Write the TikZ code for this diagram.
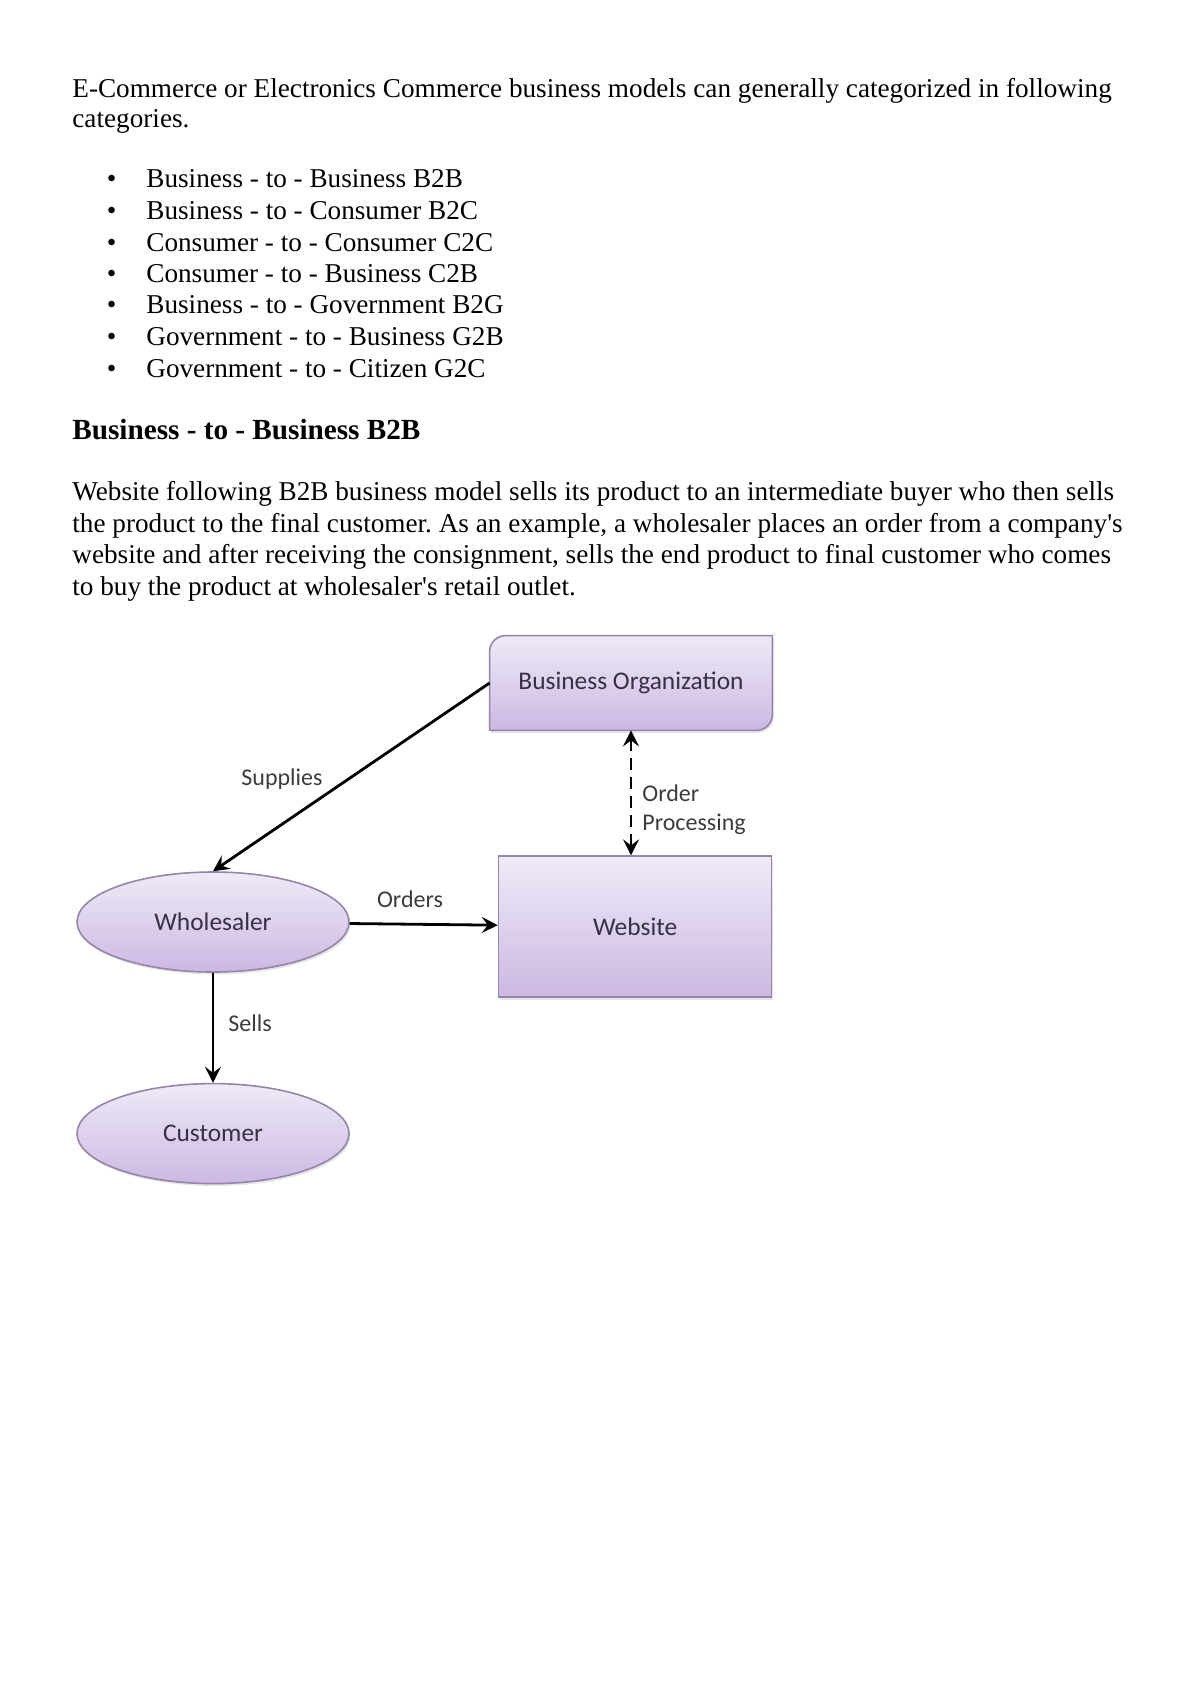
\documentclass[tikz,border=0pt]{standalone}
\usepackage{fontspec}
\setmainfont{Liberation Serif}
\newfontfamily\diag{Carlito}
\usepackage{tikz}
\usetikzlibrary{positioning,arrows.meta,shapes.geometric,shadows}

\definecolor{boxtop}{HTML}{EFEAF7}
\definecolor{boxbot}{HTML}{CCB8E2}
\definecolor{boxedge}{HTML}{9585A8}
\definecolor{nodetext}{HTML}{383044}
\definecolor{labeltext}{HTML}{3C3C3C}

\begin{document}
\frenchspacing
\begin{tikzpicture}[x=0.5pt, y=-0.5pt, >={Stealth[length=8pt,width=8pt,inset=3pt]},
      txt/.style={anchor=base west, inner sep=0pt, font=\fontsize{13.6}{15.75}\selectfont},
      bx/.style={rectangle, draw=boxedge, line width=0.8pt, top color=boxtop, bottom color=boxbot,
        text=nodetext, font=\diag\fontsize{12.7}{15}\selectfont,
        drop shadow={opacity=0.2, shadow xshift=0.8pt, shadow yshift=-1.2pt}},
      el/.style={bx, ellipse, minimum width=136pt, minimum height=50pt, inner sep=0pt},
      lbl/.style={text=labeltext, font=\diag\fontsize{12}{14.5}\selectfont, inner sep=1pt},
      arr/.style={->, line width=1.4pt}]
  \useasboundingbox (0,0) rectangle (1200,1696);

  % intro text
  \node[txt] (intro1) at (72,98) {E-Commerce or Electronics Commerce business models can generally categorized in following};
  \node[txt] (intro2) at (72,128) {categories.};

  \node[txt] (it1) at (146,188) {\llap{\textbullet\hspace{15pt}}Business - to - Business B2B};
  \node[txt] (it2) at (146,219.5) {\llap{\textbullet\hspace{15pt}}Business - to - Consumer B2C};
  \node[txt] (it3) at (146,251) {\llap{\textbullet\hspace{15pt}}Consumer - to - Consumer C2C};
  \node[txt] (it4) at (146,282.5) {\llap{\textbullet\hspace{15pt}}Consumer - to - Business C2B};
  \node[txt] (it5) at (146,314) {\llap{\textbullet\hspace{15pt}}Business - to - Government B2G};
  \node[txt] (it6) at (146,345.5) {\llap{\textbullet\hspace{15pt}}Government - to - Business G2B};
  \node[txt] (it7) at (146,377) {\llap{\textbullet\hspace{15pt}}Government - to - Citizen G2C};

  \node[txt, font=\bfseries\fontsize{14.6}{17}\selectfont] (head) at (72,439) {Business - to - Business B2B};

  \node[txt] (par1) at (72,500) {Website following B2B business model sells its product to an intermediate buyer who then sells};
  \node[txt] (par2) at (72,532) {the product to the final customer. As an example, a wholesaler places an order from a company\textquotesingle s};
  \node[txt] (par3) at (72,563) {website and after receiving the consignment, sells the end product to final customer who comes};
  \node[txt] (par4) at (72,595) {to buy the product at wholesaler\textquotesingle s retail outlet.};

  % diagram
  \node[minimum width=141pt, minimum height=47pt, inner sep=0pt] (bo) at (631,683) {};
  \draw[line width=0.8pt, draw=boxedge, top color=boxtop, bottom color=boxbot,
        drop shadow={opacity=0.2, shadow xshift=0.8pt, shadow yshift=-1.2pt}]
    (bo.south west) -- ([yshift=-8pt]bo.north west) arc[start angle=180, end angle=90, radius=8pt]
    -- (bo.north east) -- ([yshift=8pt]bo.south east) arc[start angle=0, end angle=-90, radius=8pt] -- cycle;
  \node[text=nodetext, font=\diag\fontsize{12.7}{15}\selectfont] (botext) at (bo.center) {Business Organization};

  \node[bx, minimum width=136.5pt, minimum height=70.5pt, below=62.5pt of bo.south east, anchor=north east] (web) {Website};
  \node[el] (whs) at (213,922) {Wholesaler};
  \node[el, below=55pt of whs] (cust) {Customer};

  \draw[arr] (bo.west) -- (whs.north);
  \draw[arr, <->, dashed, dash pattern=on 6pt off 3.5pt] (bo.south) -- (bo.south |- web.north);
  \draw[arr] (whs) -- (web);
  \draw[arr] (whs.south) -- (cust.north);

  \node[lbl] (supl) at (282,779) {Supplies};
  \node[lbl, anchor=west, align=left] (ordp) at (640,810) {Order\\Processing};
  \node[lbl] (ords) at (410,899) {Orders};
  \node[lbl] (sell) at (250,1023) {Sells};
\end{tikzpicture}
\end{document}
